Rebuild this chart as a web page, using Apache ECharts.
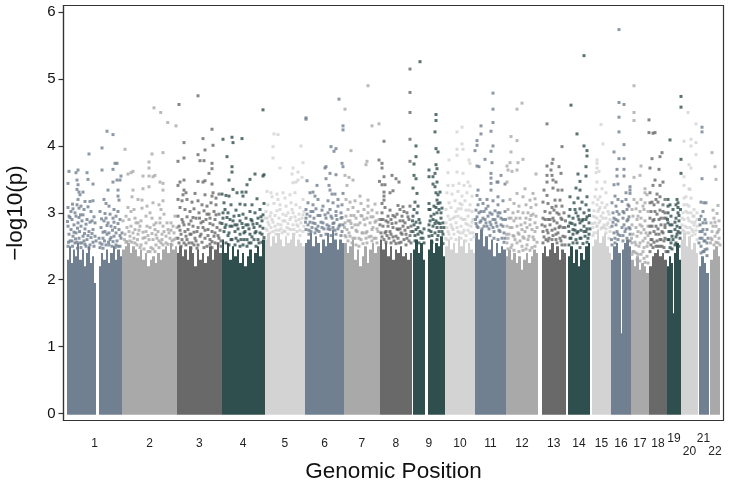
<!DOCTYPE html>
<html><head><meta charset="utf-8">
<script src="https://cdn.jsdelivr.net/npm/echarts@6/dist/echarts.min.js"></script>
<style>html,body{margin:0;padding:0;background:#fff}#c{width:729px;height:484px}</style>
</head><body><div id="c"></div>
<script>
const chromNames=['1','2','3','4','5','6','7','8','9','10','11','12','13','14','15','16','17','18','19','20','21','22'];
const chromStart=[67,122,177,221.5,264.5,305,344,379.5,412.5,445,475,506,541.5,568,592,611,631,649,667,681,698.5,710];
const chromEnd=[122,177,221.5,264.5,305,344,379.5,412,445,475,506,538,566,590,611,631,649,667,681,698,708.5,720];
const palette=['#708090','#A9A9A9','#696969','#2F4F4F','#D3D3D3'];

// dense lower band of each chromosome: [from, to, upper limit of the band in columns]
const band1=[[67,96,[2.3,2.5,2.25,2.45,2.35,2.55,2.3,2.45,2.2,2.4,2.5,2.25,2.35,1.95]],[98.5,122,[2.2,2.4,2.3,2.45,2.25,2.4,2.5,2.3,2.45,2.35]]];
const band2=[[122,177,[2.45,2.5,2.55,2.4,2.5,2.45,2.35,2.45,2.3,2.4,2.2,2.3,2.35,2.25,2.4,2.3,2.45,2.5,2.4,2.55,2.45,2.5]]];
const band3=[[177,221.5,[2.4,2.5,2.35,2.45,2.3,2.5,2.4,2.2,2.45,2.3,2.4,2.25,2.35,2.5,2.3,2.45,2.55,2.4]]];
const band4=[[221.5,264.5,[2.6,2.4,2.55,2.3,2.5,2.35,2.45,2.25,2.4,2.2,2.35,2.45,2.25,2.4,2.5,2.35,2.6]]];
const band5=[[264.5,305,[2.6,2.7,2.5,2.65,2.55,2.7,2.6,2.5,2.65,2.55,2.6,2.7,2.5,2.6,2.55,2.5]]];
const band6=[[305,344,[2.55,2.6,2.7,2.5,2.65,2.55,2.4,2.6,2.5,2.7,2.55,2.75,2.6,2.45,2.6,2.55]]];
const band7=[[344,379.5,[2.55,2.4,2.5,2.6,2.3,2.45,2.2,2.35,2.5,2.25,2.45,2.55,2.4,2.5]]];
const band8=[[379.5,412,[2.6,2.45,2.55,2.35,2.5,2.3,2.45,2.4,2.5,2.35,2.4,2.3,2.4]]];
const band9=[[412.5,425,[2.45,2.6,2.4,2.55,2.3]],[428,445,[2.45,2.6,2.4,2.55,2.5,2.65,2.35]]];
const band10=[[445,475,[2.5,2.6,2.45,2.55,2.4,2.65,2.5,2.6,2.4,2.55,2.45,2.4]]];
const band11=[[475,506,[2.7,2.6,2.75,2.5,2.65,2.45,2.6,2.35,2.55,2.4,2.5,2.45]]];
const band12=[[506,538,[2.35,2.45,2.3,2.4,2.25,2.35,2.15,2.3,2.4,2.25,2.35,2.45,2.4]]];
const band13=[[541.5,566,[2.4,2.5,2.35,2.45,2.55,2.4,2.5,2.3,2.45,2.4]]];
const band14=[[568,590,[2.35,2.5,2.25,2.45,2.2,2.4,2.3,2.5,2.55]]];
const band15=[[592,611,[2.5,2.6,2.75,2.55,2.65,2.7,2.5,2.4]]];
const band16=[[611,620.5,[2.3,2.5,2.55,2.4]],[620.5,621.5,[1.2]],[621.5,631,[2.45,2.55,2.6,2.5]]];
const band17=[[631,649,[2.3,2.2,2.35,2.15,2.25,2.2,2.1]]];
const band18=[[649,667,[2.2,2.35,2.4,2.45,2.35,2.4,2.3]]];
const band19=[[667,673,[2.2,2.35,2.25]],[673,674,[1.5]],[674,681,[2.4,2.55,2.3]]];
const band20=[[681,698,[2.6,2.7,2.5,2.65,2.45,2.55,2.4]]];
const band21=[[698.5,708.5,[2.2,2.35,2.25,2.1]]];
const band22=[[710,720,[2.3,2.45,2.5,2.35]]];

// association results: flat position, -log10(p) pairs per chromosome
const chr1=[69,3.62,68,3.44,78,3.64,76,3.6,87,3.6,89,3.88,93,3.43,88,3.5,77,3.49,78,3.42,77,3.35,79,3.31,83,3.31,80,3.27,78,3.2,77,3.12,79,3.07,81,3.1,85,3.17,90,3.17,93,3.18,71,3.02,75,3,68,3.08,73,3.06,84,3.05,88,3.09,91,3.02,69,2.95,72,2.9,76,2.95,79,2.93,83,2.97,87,2.9,92,2.88,95,2.85,68,2.8,71,2.75,74,2.82,78,2.85,81,2.8,85,2.76,89,2.72,93,2.75,69,2.68,73,2.65,76,2.7,79,2.62,83,2.65,87,2.6,91,2.63,95,2.65,70,2.58,75,2.55,82,2.55,86,2.5,90,2.52,94,2.5,102,3.64,102,3.97,107,4.22,113,4.17,115,3.74,117,3.74,113,3.65,121,3.55,120,3.49,113,3.46,117,3.49,118,3.34,118,3.25,119,3.19,108,3.34,104,3.2,106,3.14,109,3.1,100,3.02,114,3.05,118,3.02,106,2.92,110,2.98,104,2.88,113,2.92,116,2.95,120,2.9,108,2.85,101,2.78,105,2.72,111,2.8,115,2.78,119,2.75,103,2.62,107,2.68,110,2.6,114,2.65,117,2.58,121,2.62,100,2.55,106,2.52,112,2.5,118,2.5];
const chr2=[125,3.95,154,4.57,160.7,4.5,167.7,4.35,176,4.3,152,3.88,163,3.9,149,3.76,149,3.67,128,3.58,133,3.62,131,3.6,143,3.55,149,3.55,155,3.56,153,3.54,160,3.46,163,3.44,149,3.39,163,3.34,143,3.36,133,3.34,142,3.19,132,3.24,128,3.08,131,3.02,134,3.05,138,3.2,147,3.1,153,3.15,159,3.12,161,3.05,163,3.18,150,3,142,3.07,126,2.95,129,2.9,135,2.92,138,2.85,146,2.95,152,2.92,156,2.85,160,2.92,164,2.98,171,2.85,175,2.95,127,2.78,131,2.8,135,2.75,140,2.8,146,2.72,150,2.78,155,2.75,158,2.72,163,2.8,168,2.75,173,2.8,125,2.68,130,2.65,134,2.62,138,2.68,143,2.62,148,2.66,153,2.6,157,2.62,162,2.68,166,2.65,170,2.62,174,2.7,135,2.55,141,2.52,146,2.55,151,2.48,156,2.52,161,2.55,166,2.55];
const chr3=[179,4.62,198,4.75,212,4.25,203,4.11,184,4.05,213,4.01,205,3.94,198,3.87,184,3.82,178,3.77,200,3.78,204,3.78,212,3.74,212,3.66,209,3.59,203,3.46,198,3.47,212,3.43,184,3.49,180,3.46,178,3.41,205,3.48,184,3.34,186,3.3,183,3.27,195,3.29,205,3.27,212,3.25,216,3.22,219,3.28,213,3.3,178,3.2,182,3.18,187,3.2,192,3.16,198,3.18,202,3.12,207,3.1,211,3.15,216,3.12,180,3.08,185,3.05,190,3.02,194,3.06,199,3,204,3.03,209,2.98,214,3.02,219,2.98,178,2.95,182,2.9,187,2.94,191,2.88,196,2.92,201,2.85,206,2.9,210,2.84,215,2.9,220,2.85,179,2.8,184,2.82,188,2.75,193,2.8,197,2.72,203,2.78,208,2.75,212,2.72,217,2.78,181,2.68,186,2.65,190,2.68,195,2.62,200,2.65,205,2.62,210,2.6,214,2.65,219,2.62,184,2.55,192,2.55,198,2.52,207,2.5,215,2.55];
const chr4=[263,4.54,223,4.1,232,4.13,233,4.05,242,4.11,227,3.84,232,3.69,232,3.61,229,3.49,263,3.55,264,3.57,255,3.58,250,3.5,247,3.42,242,3.31,246,3.31,233,3.35,229,3.25,226,3.26,222,3.28,237,3.3,243,3.25,257,3.21,264,3.14,224,3.15,231,3.12,240,3.13,245,3.12,252,3.12,260,3.05,225,3.05,228,3,236,3.04,243,2.98,250,3.02,255,3,263,2.97,223,2.92,230,2.9,234,2.95,240,2.88,246,2.92,252,2.88,258,2.92,262,2.88,226,2.82,232,2.8,237,2.82,243,2.78,248,2.82,254,2.78,260,2.8,224,2.72,229,2.7,235,2.72,240,2.68,245,2.72,250,2.68,256,2.72,262,2.68,232,2.6,238,2.58,244,2.6,249,2.55,254,2.6,259,2.55];
const chr5=[274,4.18,278,4.17,273,3.99,273,3.82,301,4,303,3.75,293,3.67,280,3.67,292,3.58,298,3.61,302,3.53,298,3.49,293,3.45,296,3.46,267,3.32,271,3.3,277,3.28,283,3.3,272,3.24,278,3.2,285,3.22,290,3.27,295,3.3,303,3.2,268,3.12,274,3.14,280,3.12,286,3.1,291,3.15,296,3.12,300,3.08,266,3.02,271,3,277,3.03,283,2.98,288,3,293,3,299,2.98,304,3.02,267,2.92,272,2.9,279,2.92,285,2.88,290,2.9,296,2.88,302,2.92,269,2.82,275,2.8,281,2.82,287,2.78,293,2.82,298,2.8,267,2.74,273,2.72,279,2.74,285,2.72,291,2.75,297,2.72,303,2.72];
const chr6=[339,4.7,306,4.42,306,4.4,331,3.99,334,3.92,336,3.96,342,3.74,343,3.69,326,3.69,325,3.67,330,3.59,336,3.57,326,3.51,307,3.48,317,3.41,329,3.41,330,3.34,310,3.3,313,3.31,332,3.28,335,3.28,343,4.3,343,4.24,343,3.29,315,3.25,308,3.15,313,3.12,318,3.2,328,3.18,333,3.15,338,3.2,342,3.12,306,3.05,311,3.02,316,3.06,323,3.1,330,3.05,336,3.02,341,3,306,2.92,310,2.95,314,2.92,320,2.96,326,2.92,331,2.95,337,2.9,342,2.93,308,2.82,313,2.85,318,2.8,323,2.85,329,2.8,334,2.85,340,2.82,306,2.75,311,2.72,317,2.74,322,2.78,328,2.76,333,2.78,338,2.76,342,2.72];
const chr7=[345,4.55,368,4.9,372,4.3,379,4.33,351,3.93,367,3.77,366,3.72,345,3.56,349,3.53,353,3.49,347,3.41,360,3.25,368,3.19,350,3.16,346,3.2,355,3.18,361,3.14,368,3.1,375,3.13,348,3.05,353,3.08,358,3.02,364,3.05,372,3.04,377,3,346,2.95,351,2.96,356,2.92,362,2.95,367,2.92,373,2.94,345,2.85,350,2.88,355,2.82,360,2.85,365,2.82,370,2.85,376,2.88,347,2.75,352,2.78,357,2.72,362,2.7,367,2.72,372,2.75,378,2.72,345,2.66,350,2.65,355,2.62,361,2.6,366,2.62,371,2.65,376,2.62];
const chr8=[384,4.07,379,3.79,382,3.74,382,3.67,384,3.54,392,3.56,396,3.51,399,3.46,382,3.42,385,3.42,379.5,3.47,393,3.33,390,3.3,384,3.31,384,3.25,384,3.19,398,3.11,403,3.09,390,3.04,382,3.14,385,3.08,400,3.05,404,3.02,410,4.8,410,4.5,410,5.15,410,4.1,410,3.77,410,3.1,388,2.95,382,3,393,2.96,397,2.98,402,2.95,407,3,381,2.9,386,2.88,391,2.9,396,2.85,400,2.88,405,2.85,409,2.9,383,2.8,388,2.8,393,2.78,398,2.75,403,2.8,408,2.78,381,2.7,386,2.72,391,2.68,396,2.65,401,2.7,406,2.68,411,2.72,384,2.6,389,2.62,394,2.58,399,2.55,404,2.6,409,2.58];
const chr9=[420,5.26,416,4,416,3.84,414,3.73,414,3.56,416,3.51,413,3.37,417,3.29,415,3.16,414,3.05,418,3.1,413,2.95,417,3,419,2.9,414,2.82,420,2.85,416,2.75,422,2.7,413,2.72,418,2.68,423,2.62,436,4.47,436,4.38,435,4.21,436,3.96,438,3.91,436,3.72,437,3.66,429,3.64,435,3.59,429,3.54,433,3.54,433,3.43,437,3.46,435,3.39,440,3.31,437,3.19,438,3.14,436,3.08,439,3.05,437,3,440,3.15,429,3.14,429,3.05,442,3.07,431,2.95,434,2.98,441,2.92,436,2.88,443,2.85,429,2.82,433,2.8,438,2.85,441,2.78,431,2.72,435,2.7,439,2.72,443,2.68,429,2.65];
const chr10=[462,4.28,457,4.21,462,4.03,457,3.95,463,3.95,457,3.86,449,3.79,469,3.79,470,3.74,457,3.61,448,3.6,463,3.59,448,3.41,453,3.41,459,3.44,464,3.41,468,3.46,470,3.4,447,3.3,452,3.28,458,3.32,462,3.25,467,3.3,472,3.25,449,3.15,455,3.18,460,3.14,465,3.18,470,3.12,446,3.05,451,3.08,456,3.02,461,3.06,466,3.04,472,3.02,448,2.95,453,2.92,458,2.95,463,2.9,468,2.95,473,2.9,446,2.85,451,2.82,456,2.85,461,2.8,466,2.84,471,2.8,448,2.72,453,2.75,458,2.72,463,2.7,468,2.74,473,2.7];
const chr11=[493,4.79,493,4.55,493,4.35,491,4.22,481,4.3,481,4.18,477,4.08,477,4.01,493,4,491,3.92,475,3.93,485,3.8,492,3.75,477,3.7,479,3.69,491,3.59,491,3.52,491,3.44,491,3.34,498,3.46,498,3.24,497,3.46,501,3.56,505,3.43,478,3.34,477,3.26,480,3.2,483,3.14,478,3.12,487,3.2,493,3.18,498,3.12,503,3.18,476,3.04,481,3.02,486,3.06,490,3,495,3.03,500,3,505,3.02,477,2.94,483,2.92,488,2.95,493,2.9,498,2.95,503,2.9,476,2.84,481,2.88,486,2.85,491,2.82,496,2.85,501,2.82,478,2.78,484,2.8,489,2.76,494,2.72,499,2.74,504,2.7];
const chr12=[522,4.64,517,4.55,511,4.14,517,4.08,511,3.91,523,3.8,518,3.75,510,3.75,507,3.7,508,3.64,512,3.62,517,3.64,507,3.46,536,3.58,525,3.36,517,3.29,533,3.29,530,3.19,535,3.21,523,3.24,510,3.2,514,3.14,519,3.1,526,3.12,531,3.08,536,3.12,508,3.05,513,3,518,3.02,523,3,528,3,533,2.98,509,2.92,514,2.88,520,2.92,525,2.85,530,2.9,535,2.85,507,2.8,512,2.78,517,2.8,522,2.75,527,2.78,532,2.75,537,2.78,509,2.68,514,2.65,519,2.68,524,2.62,529,2.65,534,2.6,507,2.55,512,2.52,517,2.55,522,2.5,527,2.52,532,2.48];
const chr13=[547,4.33,562,3.99,553,3.8,552,3.74,547,3.7,551,3.64,559,3.69,561,3.59,547,3.56,552,3.56,547,3.46,553,3.49,556,3.46,544,3.34,553,3.37,558,3.34,562,3.34,547,3.26,555,3.19,543,3.16,560,3.19,548,3.14,552,3.08,556,3.1,562,3.1,545,3.02,550,3,554,3.04,559,2.98,564,3,543,2.92,548,2.9,553,2.92,557,2.85,562,2.9,545,2.8,550,2.82,555,2.76,560,2.8,565,2.78,543,2.72,548,2.7,553,2.66,558,2.7,563,2.65,546,2.6,556,2.6,561,2.58];
const chr14=[584,5.35,571,4.61,577,4.18,584,4,587,3.93,587,3.85,586,3.69,586,3.55,578,3.58,580,3.47,576,3.37,580,3.34,570,3.24,578,3.22,587,3.24,574,3.15,582,3.16,586,3.12,570,3.05,575,3.05,580,3.06,584,3,589,3.04,569,2.95,573,2.92,578,2.95,582,2.88,587,2.94,570,2.85,575,2.82,580,2.85,584,2.8,589,2.85,569,2.72,573,2.75,577,2.7,581,2.74,586,2.72,571,2.62,576,2.6,580,2.62,585,2.65,588,2.62];
const chr15=[601,4.32,603,4.03,597,3.79,597,3.74,597,3.67,599,3.62,596,3.6,597,3.46,605,3.46,602,3.36,595,3.24,600,3.24,606,3.3,593,3.15,597,3.12,602,3.15,607,3.12,594,3.03,599,3.05,603,3,608,3.02,593,2.95,597,2.92,601,2.95,606,2.92,610,2.9,595,2.85,599,2.85,604,2.82,608,2.85,593,2.78,597,2.8,602,2.78,606,2.76,610,2.72];
const chr16=[619,5.74,619,4.65,624,4.62,619,4.43,619,4.21,624,4.02,614,3.91,619,3.81,624,3.81,617,3.65,617,3.55,624,3.65,624,3.55,618,3.43,614,3.42,630,3.39,630,3.34,630,3.29,615,3.25,618,3.2,612,3.15,616,3.1,622,3.17,626,3.2,629,3.1,613,3,617,3.02,623,3.02,627,3.05,614,2.92,618,2.88,623,2.92,628,2.9,612,2.8,616,2.82,624,2.82,629,2.78,614,2.7,618,2.68,625,2.72,630,2.68];
const chr17=[634,4.9,634,4.5,634,4.38,641,3.7,640,3.56,634,3.53,645,3.36,645,3.3,647,3.27,634,3.2,637,3.15,641,3.2,645,3.15,632,3.05,636,3.06,640,3.02,644,3.05,648,3.02,633,2.95,637,2.9,641,2.92,645,2.88,632,2.82,636,2.78,640,2.82,644,2.75,648,2.8,633,2.68,637,2.65,641,2.7,645,2.62,632,2.55,636,2.52,640,2.55,644,2.48,648,2.55,634,2.42,638,2.38,643,2.42,647,2.35];
const chr18=[649,4.39,649,4.2,653,4.19,655,4.2,662,3.9,660,3.84,652,3.81,650,3.67,659,3.65,655,3.49,653,3.41,663,3.46,660,3.41,650,3.3,657,3.28,660,3.24,654,3.12,650,3.15,658,3.16,663,3.12,665,3.2,651,3.02,655,3.02,660,3.04,665,3,650,2.92,654,2.9,659,2.9,664,2.92,652,2.8,656,2.8,661,2.82,665,2.78,650,2.7,654,2.72,659,2.68,663,2.7,652,2.6,657,2.58,661,2.6,665,2.62,651,2.52,656,2.5,660,2.5,664,2.48];
const chr19=[681,4.74,681,4.58,670,4.09,681,3.8,681,3.59,668,3.2,678,3.15,678,3.08,678,3,676,3.12,670,3.12,673,3.05,668,3,671,2.95,676,2.92,679,2.88,668,2.85,672,2.82,675,2.75,680,2.78,669,2.72,672,2.65,677,2.68,680,2.62,668,2.6,671,2.55,676,2.55];
const chr20=[688,4.5,696,4.33,684,4.07,691,4.1,691,4,696,4.05,696,3.87,689,3.72,691,3.67,684,3.54,684,3.41,689,3.36,686,3.24,691,3.22,684,3.12,689,3.1,694,3.05,683,3,688,3,693,2.95,697,2.9,684,2.9,689,2.88,694,2.82,682,2.82,687,2.78,692,2.75,697,2.8,684,2.72,689,2.7,695,2.68];
const chr21=[702,4.28,702,4.21,702,3.51,704,3.15,701,3.16,703,3.02,706,3.15,701,2.95,705,2.9,703,2.85,700,2.82,707,2.75,702,2.72,705,2.68,700,2.62,704,2.58,707,2.55,701,2.5,705,2.45];
const chr22=[712,3.9,715,3.69,716,3.5,718,3.11,713,3.04,717,2.99,714,2.92,719,2.88,711,2.85,716,2.8,712,2.72,718,2.72,715,2.65,719,2.62,711,2.62];

// further readings inside the speckled zone just above the solid band
const more1=[67.5,2.87,70,2.93,72.5,3.13,74,2.71,75.5,2.61,77.5,2.77,79.5,2.72,80.5,2.97,82,2.88,84.5,2.69,86,2.83,88,2.66,90,2.86,92,2.69,94,2.94,96,2.58,68.5,2.56,72,2.58,77,2.56,80,2.55,84,2.58,99,2.62,101.5,2.91,103,2.71,105,2.99,107,2.81,109,2.7,111,2.63,112.5,2.74,114,2.86,116,2.7,118,2.84,120,2.66,122,2.7,102,2.53,104.5,2.58,108.5,2.56,113,2.57,116,2.52,68,2.5,72.5,2.5,77.5,2.47,81,2.48,85,2.53,89,2.47,93,2.56,100,2.48,103,2.47,109,2.52,115,2.48,120,2.5];
const more2=[123,2.88,124.5,2.6,127,2.57,129,2.72,132,2.56,133,2.7,136,2.85,137.5,2.6,139,2.74,141,2.88,143,2.71,145,2.63,147,2.8,149,2.6,152,2.69,154,2.82,156,2.67,159,2.58,160,2.85,162,2.6,164,2.72,167,2.85,169,2.7,171,2.74,172,2.58,174,2.6,176,2.62,177,2.78,126,2.56,130,2.58,137,2.52,140,2.48,144,2.46,148,2.42,150,2.42,153,2.46,155,2.42,159,2.48,163,2.52,168,2.53,172,2.52];
const more3=[178,2.62,180,2.74,182,2.6,183,2.86,185,2.72,187,2.6,189,2.83,191,2.68,193,2.93,194,2.71,196,2.58,198,2.78,199.5,2.92,201,2.68,203,2.87,205,2.74,207,2.98,208,2.66,210,2.92,212,2.57,213,2.82,215,2.7,216,2.97,218,2.66,220,2.74,221,2.58,186,2.52,189,2.55,202,2.56,210,2.53,218,2.54,179,2.55,181,2.5,191,2.47,194,2.52,197,2.47,204,2.48,212,2.48,221,2.5];
const more4=[222,2.84,223,3,225,2.78,227,2.93,228,2.66,230,2.8,231,2.6,233,2.88,235,2.82,236,2.62,238,2.76,239,2.96,241,2.6,242,2.84,244,2.7,246,2.82,247,2.6,249,2.76,251,2.9,252,2.64,253,2.83,255,2.7,257,2.84,258,2.6,260,2.7,261,2.94,263,2.77,264,2.63,226,2.55,229,2.52,235,2.52,240,2.5,243,2.52,247,2.5,251,2.55,256,2.5,262,2.56];
const more5=[265,2.92,266,2.76,268,2.86,270,2.95,271,2.78,273,2.86,275,2.96,276,2.74,278,2.83,280,3.05,281,2.76,283,2.88,284,2.73,286,2.96,288,2.84,289,2.76,291,2.93,292,3.05,294,2.75,295,2.94,297,2.82,299,2.9,300,2.74,301,2.85,303,2.97,304,2.8,270,2.7,276,2.68,282,2.7,288,2.68,294,2.68,300,2.66];
const more6=[305.5,2.86,307,2.98,309,2.74,310,2.86,312,2.78,313,3.02,315,2.84,316,2.76,318,2.96,319,2.72,321,2.86,322,3.04,324,2.76,325,2.97,327,2.82,328,3,330,2.75,332,2.92,333,2.84,335,2.74,336,2.96,338,3.1,339,2.8,341,2.92,343,2.82,309,2.68,315,2.7,321,2.66,326,2.68,331,2.66,336,2.68,341,2.66];
const more7=[344.5,2.78,346,2.64,348,2.88,349,2.7,351,2.84,353,2.62,354,2.96,356,2.74,358,2.82,359,2.62,361,2.96,363,2.7,364,2.9,366,2.7,368,3,369,2.64,371,2.94,373,2.78,374,2.62,375,2.86,377,2.76,379,2.9,348,2.58,352,2.55,356,2.52,359,2.5,363,2.54,367,2.55,372,2.58,377,2.55];
const more8=[380,2.82,382,2.64,383,2.9,385,2.7,387,2.66,388,2.86,390,2.72,392,2.84,393,2.64,395,2.94,397,2.76,398,2.62,400,2.76,402,2.68,403,2.88,405,2.74,407,2.62,408,2.94,410,2.66,411,2.8,386,2.56,391,2.55,396,2.54,401,2.56,406,2.52,411,2.55];
const more9=[412.5,2.88,415,2.66,416,2.86,418,2.78,420,2.72,421,2.62,424,2.76,429,2.74,430,2.88,432,2.66,433,2.9,435,2.84,437,2.78,438,2.66,440,2.84,441,3,442,2.72,444,2.78,430,3.05,434,3.1,438,3.27,436,3.3,415,2.58,419,2.55,424,2.55,432,2.56,437,2.6,443,2.54];
const more10=[445.5,2.62,447,2.78,449,2.68,450,2.9,452,2.78,454,2.68,455,2.94,457,2.78,458,3.06,460,2.7,461,2.92,462,3.12,464,2.74,465,2.9,466,2.66,468,2.82,469,3.04,470,2.7,472,2.86,474,2.64,447,2.6,451,2.62,456,2.6,461,2.62,466,2.58,471,2.6];
const more11=[475.5,2.9,477,2.8,479,3,480,2.86,482,2.76,484,3.02,485,2.9,487,2.8,488,3.1,490,2.86,492,2.98,493,2.78,495,2.9,497,2.8,498,3,500,2.72,501,2.92,503,2.8,505,2.62,505.5,2.9,490,2.66,494,2.62,498,2.6,502,2.62,504,2.56];
const more12=[506.5,2.68,508,2.62,510,2.78,511,2.92,513,2.66,515,2.6,516,2.92,518,2.7,520,2.58,521,2.82,523,2.64,525,2.72,526,2.92,528,2.6,530,2.82,531,2.96,533,2.64,535,2.72,536,2.95,537,2.56,508,2.46,511,2.48,514,2.44,519,2.42,523,2.44,526,2.46,530,2.44,535,2.5];
const more13=[542,2.82,544,2.64,545,2.9,547,2.74,549,2.62,550,2.9,552,2.74,554,2.88,556,2.68,557,3,559,2.78,560,2.62,561,2.92,563,2.78,565,2.64,565.5,2.88,543,2.55,548,2.58,552,2.6,557,2.55,562,2.52,565,2.52];
const more14=[568.5,2.8,570,2.62,572,2.84,573,2.68,575,2.74,576,3,578,2.72,579,2.9,581,2.62,583,2.9,584,2.72,586,2.9,587,2.76,589,2.68,589.5,2.96,590,2.76,569,2.52,573,2.55,577,2.55,580,2.48,583,2.54,587,2.56];
const more15=[592.5,2.84,594,2.7,595,2.94,597,2.8,598,3.02,600,2.88,601,2.76,603,2.92,604,2.78,605,3.08,607,2.82,609,2.98,610,2.78,596,3.35,598,3.2,600,3.08,593,2.66,597,2.7,606,2.7,609,2.62];
const more16=[611.5,2.6,613,2.86,615,2.62,616,2.9,617,2.72,619,2.98,620,2.66,622,2.78,623,2.66,624,3,626,2.76,627,2.88,629,2.94,630,2.76,628,3.12,626,3.3,612,2.52,615,2.55,618,2.6,623,2.58,627,2.62,630,2.58];
const more17=[631.5,2.62,633,2.42,635,2.56,636,2.4,638,2.72,639,2.5,641,2.38,642,2.8,643,2.58,644,2.32,646,2.7,647,2.5,648,2.66,638,2.95,643,3.1,632,2.38,637,2.3,640,2.28,645,2.26,648,2.25];
const more18=[650,2.8,651,2.6,653,2.88,654,2.56,656,2.68,657,2.98,658,2.76,660,2.6,661,2.92,662,2.72,664,2.58,665,2.82,666,2.92,652,3.16,656,3.2,663,3.02,650,2.42,653,2.48,658,2.5,662,2.5,666,2.42];
const more19=[667.5,2.9,669,2.6,670,2.82,671,2.72,673,2.6,675,2.86,676,2.64,677,2.8,678,2.72,679,2.96,680,2.7,680.5,3.05,668,3.1,677,3.2,668,2.42,670,2.48,672,2.46,675,2.52,679,2.5];
const more20=[682,2.92,683,2.74,685,2.8,686,3.02,687,2.7,688,2.92,690,2.78,691,3,692,2.86,693,2.72,694,2.95,695,2.86,696,2.74,697,3,684,3.22,687,3.12,690,3.35,692,2.66,697,2.6];
const more21=[699,2.55,700,2.72,701,2.4,702,2.62,703,2.75,704,2.42,705,2.58,706,2.85,707,2.46,708,2.62,699.5,2.9,703,2.42,707,2.36];
const more22=[710.5,2.55,712,2.6,713,2.8,714,2.52,715,2.86,716,2.56,717,2.7,718,2.55,719,2.75,720,2.52];

const yTicks=[0,1,2,3,4,5,6];
const xTitle='Genomic Position';
const yTitle='\u2212log10(p)';

const bands=[band1,band2,band3,band4,band5,band6,band7,band8,band9,band10,band11,band12,band13,band14,band15,band16,band17,band18,band19,band20,band21,band22];
const points=[chr1,chr2,chr3,chr4,chr5,chr6,chr7,chr8,chr9,chr10,chr11,chr12,chr13,chr14,chr15,chr16,chr17,chr18,chr19,chr20,chr21,chr22];
const morePoints=[more1,more2,more3,more4,more5,more6,more7,more8,more9,more10,more11,more12,more13,more14,more15,more16,more17,more18,more19,more20,more21,more22];
const colorOf=i=>palette[i%palette.length];
const mids=chromStart.map((s,i)=>(s+chromEnd[i])/2);
const nameAt=v=>{let k=0,b=1e9;mids.forEach((m,i)=>{const d=Math.abs(m-v);if(d<b){b=d;k=i}});return chromNames[k]};

const columns=[];
bands.forEach((segs,i)=>segs.forEach(([a,b,tops])=>tops.forEach((t,j)=>{
  const w=(b-a)/tops.length;columns.push([a+j*w,a+(j+1)*w,t,i]);
})));

const series=[{
  type:'custom',silent:true,animation:false,clip:true,
  encode:{x:[0,1],y:2},
  data:columns,
  renderItem(p,api){
    const tl=api.coord([api.value(0),api.value(2)]),br=api.coord([api.value(1),-0.02]);
    const x0=Math.round(tl[0]),x1=Math.round(br[0]);
    return {type:'rect',shape:{x:x0,y:tl[1],width:x1-x0,height:br[1]-tl[1]},
      style:{fill:colorOf(api.value(3))}};
  }
}];
points.forEach((flat,i)=>{
  const all=flat.concat(morePoints[i]);
  const d=[];for(let k=0;k<all.length;k+=2)d.push([all[k],all[k+1]]);
  series.push({type:'scatter',symbol:'rect',symbolSize:3,silent:true,animation:false,
    itemStyle:{color:colorOf(i)},data:d});
});

const FONT='"Liberation Sans",Arial,sans-serif';
const xBase={type:'value',min:63.5,max:723.5,position:'bottom',axisLine:{show:false,onZero:false},axisTick:{show:false},splitLine:{show:false}};
const lab=(vals,margin)=>({...xBase,axisLabel:{show:true,customValues:vals,hideOverlap:false,showMinLabel:true,showMaxLabel:true,margin,fontFamily:FONT,fontSize:12,color:'#222',formatter:nameAt}});
const lowIdx=[18,20],highIdx=[19,21];
const mainMids=mids.filter((m,i)=>!lowIdx.includes(i)&&!highIdx.includes(i));

const chart=echarts.init(document.getElementById('c'),null,{renderer:'canvas'});
chart.setOption({
  animation:false,backgroundColor:'#fff',
  grid:{left:63.5,right:5.5,top:5.5,bottom:63.5,show:true,borderColor:'#333',borderWidth:1.2,backgroundColor:'#fff',containLabel:false,outerBoundsMode:'none'},
  xAxis:[
    {...lab(mainMids,17),name:xTitle,nameLocation:'middle',nameGap:40,nameTextStyle:{fontFamily:FONT,fontSize:22.5,color:'#111'}},
    {...lab(lowIdx.map(i=>mids[i]),12)},
    {...lab(highIdx.map(i=>mids[i]),25)}
  ],
  yAxis:{type:'value',min:-0.105,max:6.1,
    name:yTitle,nameLocation:'middle',nameGap:36,nameRotate:90,nameTextStyle:{fontFamily:FONT,fontSize:22.5,color:'#111'},
    axisLine:{show:true,onZero:false,lineStyle:{color:'#333',width:1.2}},splitLine:{show:false},
    axisTick:{show:true,length:5,customValues:yTicks,lineStyle:{color:'#333',width:1.2}},
    axisLabel:{show:true,customValues:yTicks,margin:8,fontFamily:FONT,fontSize:15,color:'#111',formatter:v=>String(Math.round(v))}},
  series
});
</script></body></html>
